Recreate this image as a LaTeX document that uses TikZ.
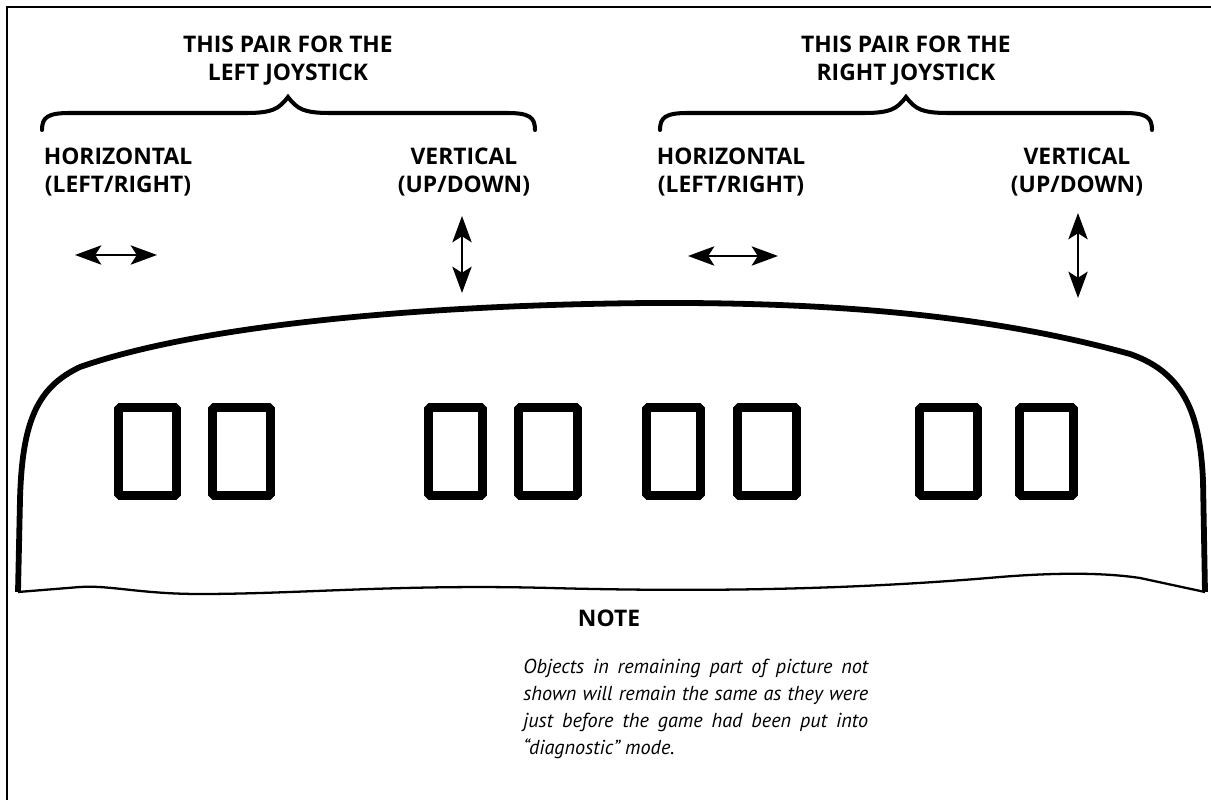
\documentclass[tikz,border=0pt]{standalone}
\usepackage{fontspec}
\setmainfont{PT Sans}
\newfontfamily\labelfont{Open Sans}
\usetikzlibrary{arrows.meta}

\tikzset{
  lbl/.style={font=\labelfont\fontsize{13}{16}\selectfont\bfseries,align=center,inner sep=0pt},
  window/.style={line width=5pt,rounded corners=1pt},
  brace/.style={line width=2.3pt,line cap=round},
  move/.style={line width=1pt,{Stealth[length=15pt,width=11pt,inset=3.5pt]}-{Stealth[length=15pt,width=11pt,inset=3.5pt]}}
}

\begin{document}
\begin{tikzpicture}[x=0.02cm,y=-0.02cm]
  \useasboundingbox (0,0) rectangle (1211,800);
  \draw[line width=1.3pt] (7,800) -- (7,7) -- (1211,7);

  \node[lbl] (leftpair) at (288,61) {THIS PAIR FOR THE\\LEFT JOYSTICK};
  \node[lbl] (rightpair) at (906,61) {THIS PAIR FOR THE\\RIGHT JOYSTICK};
  \foreach \a/\m/\b in {42/288/535, 660/906/1152}
    \draw[brace] (\a,130) .. controls (\a,117) and (\a+6,113) .. (\a+28,113) -- (\m-42,113)
      .. controls (\m-16,113) and (\m-9,109) .. (\m,97) .. controls (\m+9,109) and (\m+16,113) .. (\m+42,113)
      -- (\b-28,113) .. controls (\b-6,113) and (\b,117) .. (\b,130);

  \node[lbl] (lefthorz) at (118,172) {HORIZONTAL\\(LEFT/RIGHT)};
  \node[lbl] (leftvert) at (464,172) {VERTICAL\\(UP/DOWN)};
  \node[lbl] (righthorz) at (731,172) {HORIZONTAL\\(LEFT/RIGHT)};
  \node[lbl] (rightvert) at (1077,172) {VERTICAL\\(UP/DOWN)};

  \coordinate (lh1) at (75,255);  \coordinate (lh2) at (157,255);
  \coordinate (lv1) at (462,216); \coordinate (lv2) at (462,293);
  \coordinate (rh1) at (688,256); \coordinate (rh2) at (778,256);
  \coordinate (rv1) at (1078,213); \coordinate (rv2) at (1078,298);
  \draw[move] (lh1) -- (lh2);
  \draw[move] (lv1) -- (lv2);
  \draw[move] (rh1) -- (rh2);
  \draw[move] (rv1) -- (rv2);

  % screen outline
  \draw[line width=3.3pt] (18,592) -- (20,500) .. controls (22,420) and (38,387) .. (80,367)
    .. controls (200,325) and (420,305) .. (650,303) .. controls (850,302) and (1000,318) .. (1130,354)
    .. controls (1188,374) and (1200,420) .. (1203,480) -- (1205,592);
  \draw[line width=1.3pt] (1205,592) -- (1140,578) .. controls (1100,572) and (1050,573) .. (1000,577)
    .. controls (850,590) and (700,592) .. (550,588) .. controls (400,584) and (300,594) .. (200,594)
    .. controls (140,594) and (110,585) .. (80,587) -- (18,592);

  \foreach \x/\w in {114/67, 208/67, 424/63, 514/68, 642/63, 733/68, 915/67, 1015/63}
    \draw[window] (\x+4.5,407.5) rectangle (\x+\w-4.5,495.5);

  \node[lbl] (note) at (609,618) {NOTE};
  \node[anchor=north west,inner sep=0pt,text width=6.9cm,align=justify,
    font=\fontsize{11.5}{15.4}\selectfont\itshape] (notetext) at (523,659)
    {Objects in remaining part of picture not\linebreak shown will remain the same as they were\linebreak just before the game had been put into\linebreak “diagnostic” mode.};
\end{tikzpicture}
\end{document}
